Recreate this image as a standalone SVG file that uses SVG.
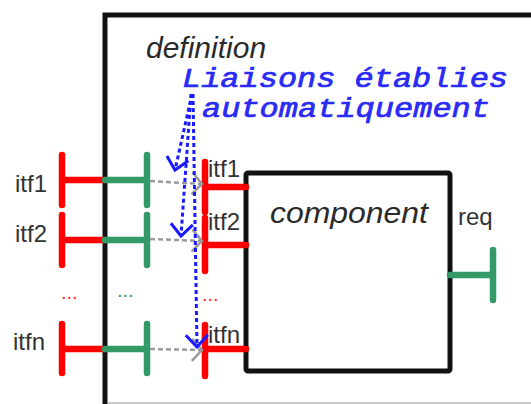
<svg xmlns="http://www.w3.org/2000/svg" width="531" height="404" viewBox="0 0 531 404">
<defs>
<style>
.lbl{font-family:"Liberation Sans",Arial,sans-serif;font-size:24px;fill:#333}
.ital{font-family:"Liberation Sans",Arial,sans-serif;font-style:italic;font-size:30px;fill:#2a2a2a}
.mono{font-family:"Liberation Mono","Courier New",monospace;font-weight:normal;font-style:italic;font-size:27px;fill:#2a2af5;stroke:#2a2af5;stroke-width:0.7}
.red{stroke:#ff0000;stroke-width:6.5;stroke-linecap:round;fill:none}
.grn{stroke:#339966;stroke-width:6.5;stroke-linecap:round;fill:none}
.gray{stroke:#9a9a9a;stroke-width:2.5;stroke-dasharray:5 3;fill:none}
.blue{stroke:#1a1aff;stroke-width:3;stroke-dasharray:4 3;fill:none}
.dotr{font-family:"Liberation Sans",Arial,sans-serif;font-size:20px;fill:#ff3030}
.dotg{font-family:"Liberation Sans",Arial,sans-serif;font-size:20px;fill:#339966}
</style>
<marker id="ag" viewBox="-14 -14 16 28" markerWidth="16" markerHeight="28" refX="0" refY="0" orient="auto" markerUnits="userSpaceOnUse" overflow="visible">
<path d="M -10 -11 L 0 0 L -10 11" fill="none" stroke="#9a9a9a" stroke-width="2.5"/>
</marker>
<marker id="ab" viewBox="-14 -14 16 28" markerWidth="16" markerHeight="28" refX="0" refY="0" orient="auto" markerUnits="userSpaceOnUse" overflow="visible">
<path d="M -12 -11 L 0 0 L -12 11" fill="none" stroke="#1a1aff" stroke-width="3"/>
</marker>
</defs>
<rect width="531" height="404" fill="#ffffff"/>
<g id="definition">
<path d="M 105 404 L 105 15 L 531 15" fill="none" stroke="#111" stroke-width="5"/>
<line x1="107" y1="403" x2="531" y2="403" stroke="#999" stroke-width="1.2"/>
<text class="ital" x="146" y="58">definition</text>
</g>
<g id="component">
<rect x="246" y="173" width="204" height="198" rx="2" fill="#fff" stroke="#111" stroke-width="5"/>
<text class="ital" x="270" y="223" textLength="158" lengthAdjust="spacingAndGlyphs">component</text>
</g>
<g id="req">
<path class="grn" d="M 450 275 L 493 275 M 493 250 L 493 300"/>
<text class="lbl" x="458" y="225">req</text>
</g>
<g id="itf1-ext">
<path class="red" d="M 62 155 L 62 205 M 62 180 L 105 180"/>
<path class="grn" d="M 105 180 L 147 180 M 147 155 L 147 205"/>
<text class="lbl" x="15" y="192">itf1</text>
</g>
<g id="itf2-ext">
<path class="red" d="M 62 215 L 62 265 M 62 240 L 105 240"/>
<path class="grn" d="M 105 240 L 147 240 M 147 215 L 147 265"/>
<text class="lbl" x="15" y="242">itf2</text>
</g>
<g id="itfn-ext">
<path class="red" d="M 62 324 L 62 373 M 62 349 L 105 349"/>
<path class="grn" d="M 105 349 L 147 349 M 147 324 L 147 373"/>
<text class="lbl" x="13" y="350">itfn</text>
</g>
<g id="dots">
<text class="dotr" x="61" y="299">...</text>
<text class="dotg" x="117" y="297">...</text>
<text class="dotr" x="202" y="301">...</text>
</g>
<g id="itf1-int">
<path class="red" d="M 205 162 L 205 212 M 205 187 L 246 187"/>
<text class="lbl" x="208" y="177">itf1</text>
</g>
<g id="itf2-int">
<path class="red" d="M 205 218 L 205 271 M 205 245 L 246 245"/>
<text class="lbl" x="208" y="230">itf2</text>
</g>
<g id="itfn-int">
<path class="red" d="M 205 325 L 205 376 M 205 349 L 246 349"/>
<text class="lbl" x="208" y="343">itfn</text>
</g>
<g id="note">
<text class="mono" x="182" y="87" textLength="326" lengthAdjust="spacingAndGlyphs">Liaisons établies</text>
<text class="mono" x="202" y="117" textLength="288" lengthAdjust="spacingAndGlyphs">automatiquement</text>
</g>
<g id="connectors">
<path class="gray" d="M 150 181 L 202 184" marker-end="url(#ag)"/>
<path class="gray" d="M 150 239 L 202 241" marker-end="url(#ag)"/>
<path class="gray" d="M 150 349 L 202 350" marker-end="url(#ag)"/>
<path class="blue" d="M 192 94 L 175 170" marker-end="url(#ab)"/>
<path class="blue" d="M 191 94 L 181 236" marker-end="url(#ab)"/>
<path class="blue" d="M 193 94 L 197 347" marker-end="url(#ab)"/>
</g>
</svg>
